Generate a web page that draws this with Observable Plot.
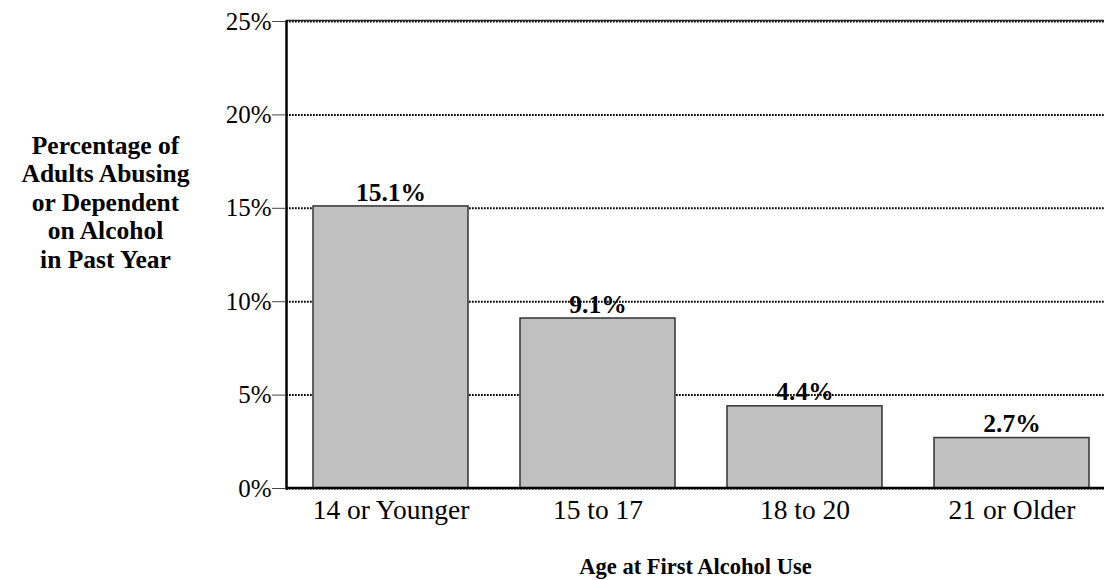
<!DOCTYPE html>
<html>
<head>
<meta charset="utf-8">
<script src="https://cdn.jsdelivr.net/npm/d3@7"></script>
<script src="https://cdn.jsdelivr.net/npm/@observablehq/plot@0.6"></script>
<style>
  html, body { margin: 0; padding: 0; background: #fff; }
  #chart svg { display: block; }
</style>
</head>
<body>
<div id="chart"></div>
<script>
const categories = ["14 or Younger", "15 to 17", "18 to 20", "21 or Older"];
const values = [15.1, 9.1, 4.4, 2.7];
const yTicks = [0, 5, 10, 15, 20, 25];
const yLabelLines = ["Percentage of", "Adults Abusing", "or Dependent", "on Alcohol", "in Past Year"];
const xLabel = "Age at First Alcohol Use";

const data = categories.map((c, i) => ({category: c, value: values[i]}));
const serif = "'Liberation Serif', 'Times New Roman', serif";

const chart = Plot.plot({
  width: 1104,
  height: 580,
  marginTop: 21,
  marginBottom: 92,
  marginLeft: 286,
  marginRight: 0,
  style: {fontFamily: serif, background: "#fff", color: "#000"},
  x: {domain: categories, range: [286, 1117], paddingInner: 0.25, paddingOuter: 0.125},
  y: {domain: [0, 25]},
  marks: [
    Plot.gridY(yTicks, {stroke: "#000", strokeOpacity: 1, strokeWidth: 2, strokeDasharray: "1.7,1.3"}),
    Plot.barY(data, {x: "category", y: "value", fill: "#c0c0c0", stroke: "#333", strokeWidth: 1.5}),
    Plot.ruleY([25], {stroke: "#222", strokeWidth: 1.5, dy: -1}),
    Plot.ruleY([0], {stroke: "#000", strokeWidth: 2.5, dy: -0.5}),
    Plot.frame({anchor: "left", stroke: "#000", strokeWidth: 2.5}),
    Plot.axisY(yTicks, {
      tickSize: 14, tickPadding: 1, tickFormat: d => d + "%",
      fontSize: 25, stroke: "#444", label: null
    }),
    Plot.axisX({tickSize: 0, tickPadding: 11, fontSize: 27.5, label: null}),
    Plot.text(data, {
      x: "category", y: "value", text: d => d.value.toFixed(1) + "%",
      lineAnchor: "middle", dy: -14, fontSize: 25.5, fontWeight: "bold", fill: "#000"
    }),
    Plot.text([yLabelLines.join("\n")], {
      frameAnchor: "left", textAnchor: "middle", lineAnchor: "middle",
      dx: -181, dy: -53.5, lineHeight: 1.12, fontSize: 25.5, fontWeight: "bold", fill: "#000"
    }),
    Plot.text([xLabel], {
      frameAnchor: "bottom", lineAnchor: "middle", dy: 78,
      fontSize: 22.5, fontWeight: "bold", fill: "#000"
    })
  ]
});
document.getElementById("chart").appendChild(chart);
</script>
</body>
</html>
